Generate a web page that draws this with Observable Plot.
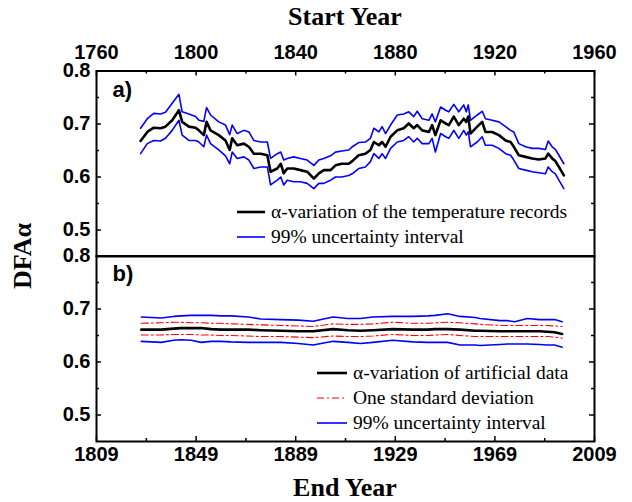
<!DOCTYPE html>
<html>
<head>
<meta charset="utf-8">
<script src="https://cdn.jsdelivr.net/npm/d3@7"></script>
<script src="https://cdn.jsdelivr.net/npm/@observablehq/plot@0.6"></script>
<style>
  html, body { margin: 0; padding: 0; background: white; }
  #chart { position: relative; width: 632px; height: 502px; overflow: hidden; background: white; }
  .abs { position: absolute; }
  .title { font-family: "Liberation Serif", "Times New Roman", serif; font-weight: bold; font-size: 26px; white-space: nowrap; }
  .leg { position: absolute; display: flex; align-items: center; font-family: "Liberation Serif", "Times New Roman", serif; font-size: 19.5px; white-space: nowrap; height: 24px; }
  .leg svg { margin-right: 6px; }
</style>
</head>
<body>
<div id="chart"></div>
<script>
// ---------- data ----------
// Panel a) : DFA alpha of temperature records vs start year (50-yr windows)
const startYears = [1777.7,1780.4,1783.0,1785.7,1787.7,1790.4,1793.1,1794.4,1797.1,1799.8,
  1801.1,1803.1,1804.2,1805.8,1809.1,1811.8,1813.5,1814.5,1816.5,1819.2,
  1821.2,1823.2,1825.9,1828.6,1829.9,1832.6,1834.0,1835.2,1836.6,1839.2,
  1841.9,1844.6,1847.3,1849.3,1851.3,1854.0,1856.0,1858.5,1861.3,1862.7,
  1865.3,1868.0,1870.0,1871.4,1873.4,1874.7,1876.1,1878.1,1880.8,1883.4,
  1885.4,1887.4,1888.8,1890.8,1893.5,1894.8,1896.1,1898.2,1900.2,1901.5,
  1903.5,1905.5,1907.5,1908.5,1909.3,1910.2,1912.9,1914.9,1916.2,1918.9,
  1921.6,1924.3,1926.3,1927.6,1929.6,1932.3,1935.0,1937.6,1940.3,1941.4,
  1943.0,1944.3,1945.7,1947.7];
const alphaTemp = [0.668,0.685,0.693,0.692,0.695,0.707,0.726,0.704,0.695,0.693,
  0.688,0.679,0.704,0.688,0.679,0.669,0.651,0.673,0.660,0.663,
  0.657,0.644,0.644,0.641,0.610,0.616,0.625,0.607,0.616,0.616,
  0.613,0.610,0.597,0.607,0.613,0.613,0.622,0.625,0.625,0.630,
  0.641,0.644,0.651,0.666,0.660,0.666,0.657,0.676,0.688,0.692,
  0.701,0.692,0.698,0.688,0.685,0.698,0.679,0.707,0.701,0.698,
  0.714,0.698,0.710,0.704,0.714,0.682,0.695,0.704,0.685,0.685,
  0.679,0.669,0.666,0.657,0.641,0.638,0.635,0.633,0.635,0.644,
  0.635,0.630,0.619,0.603];
const upperTemp = [0.692,0.710,0.720,0.719,0.722,0.739,0.756,0.723,0.719,0.714,
  0.707,0.705,0.731,0.717,0.704,0.698,0.680,0.698,0.682,0.688,
  0.685,0.669,0.666,0.666,0.635,0.644,0.647,0.632,0.635,0.638,
  0.635,0.632,0.622,0.632,0.635,0.640,0.647,0.649,0.651,0.657,
  0.665,0.666,0.673,0.692,0.685,0.695,0.682,0.698,0.717,0.719,
  0.723,0.714,0.724,0.710,0.707,0.719,0.704,0.732,0.726,0.723,
  0.737,0.723,0.736,0.723,0.736,0.707,0.717,0.724,0.710,0.707,
  0.704,0.695,0.688,0.685,0.663,0.657,0.654,0.654,0.652,0.668,
  0.657,0.652,0.641,0.625];
const lowerTemp = [0.644,0.663,0.669,0.668,0.673,0.688,0.707,0.679,0.669,0.669,
  0.666,0.657,0.679,0.663,0.651,0.640,0.625,0.647,0.635,0.638,
  0.632,0.616,0.619,0.619,0.585,0.594,0.600,0.585,0.594,0.591,
  0.591,0.588,0.578,0.588,0.588,0.594,0.600,0.600,0.603,0.606,
  0.616,0.619,0.629,0.644,0.635,0.644,0.635,0.654,0.666,0.669,
  0.676,0.666,0.673,0.663,0.663,0.673,0.647,0.682,0.676,0.673,
  0.688,0.673,0.688,0.679,0.685,0.657,0.666,0.676,0.660,0.660,
  0.654,0.644,0.641,0.632,0.616,0.613,0.610,0.608,0.606,0.619,
  0.610,0.606,0.594,0.578];

// Panel b) : artificial data vs end year
const endYears = [1827,1835,1840,1843,1847,1851,1855,1859,1863,1870,1875,1883,1890,1896,1904,1910,1915,
  1920,1928,1936,1942,1945,1950,1955,1961,1963,1971,1974,1977,1982,1987,1990,1993,1996];
const upper99Art = [0.685,0.683,0.686,0.687,0.688,0.688,0.688,0.687,0.687,0.685,0.681,0.680,0.679,0.677,0.685,0.682,0.682,
  0.685,0.686,0.686,0.687,0.688,0.691,0.686,0.684,0.682,0.678,0.678,0.676,0.682,0.680,0.680,0.680,0.676];
const upperSdArt = [0.673,0.674,0.675,0.675,0.674,0.674,0.673,0.673,0.672,0.671,0.670,0.669,0.668,0.667,0.672,0.671,0.671,
  0.672,0.675,0.673,0.673,0.674,0.675,0.674,0.672,0.671,0.669,0.669,0.669,0.669,0.669,0.669,0.668,0.667];
const alphaArt = [0.661,0.661,0.663,0.664,0.664,0.664,0.662,0.661,0.661,0.661,0.660,0.659,0.658,0.658,0.662,0.660,0.659,
  0.660,0.662,0.661,0.661,0.662,0.662,0.661,0.659,0.659,0.658,0.658,0.658,0.658,0.658,0.657,0.656,0.653];
const lowerSdArt = [0.651,0.651,0.652,0.652,0.652,0.651,0.651,0.650,0.650,0.649,0.648,0.648,0.647,0.646,0.649,0.648,0.648,
  0.649,0.652,0.650,0.650,0.651,0.652,0.650,0.648,0.648,0.648,0.648,0.648,0.648,0.648,0.648,0.647,0.645];
const lower99Art = [0.639,0.637,0.641,0.642,0.641,0.637,0.639,0.639,0.638,0.637,0.637,0.637,0.635,0.632,0.639,0.637,0.635,
  0.637,0.641,0.638,0.637,0.637,0.637,0.632,0.632,0.631,0.633,0.634,0.634,0.634,0.633,0.632,0.632,0.628];

// tick labels
const startTicks = [1760, 1800, 1840, 1880, 1920, 1960];
const startMinor = [1780, 1820, 1860, 1900, 1940];
const endTicks = [1809, 1849, 1889, 1929, 1969, 2009];
const endMinor = [1829, 1869, 1909, 1949, 1989];
const yTicks = [0.5, 0.6, 0.7, 0.8];
const yMinor = [0.55, 0.65, 0.75];

const legendA = ["α-variation of the temperature records", "99% uncertainty interval"];
const legendB = ["α-variation of artificial data", "One standard deviation", "99% uncertainty interval"];

// ---------- layout ----------
const W = 632, ML = 96, MR = 38;
const PW = W - ML - MR;           // plot width
const PH = 185.5;                 // plot height of each panel
const BLUE = "#0000ff", RED = "#ff0000";
const DASHDOT = "7,3,2,3";
const baseStyle = {background: "transparent", overflow: "visible",
  fontFamily: "'Liberation Sans', Arial, sans-serif", fontSize: "20px", fontWeight: "bold", color: "black"};

function inwardTicks(xMaj, xMin, side) {
  const xInset = side === "top" ? "insetBottom" : "insetTop";
  return [
    Plot.tickX(xMaj, {x: d => d, [xInset]: PH - 5, stroke: "black", strokeWidth: 1.5}),
    Plot.tickX(xMin, {x: d => d, [xInset]: PH - 3, stroke: "black", strokeWidth: 1.5}),
    Plot.tickY(yTicks, {y: d => d, insetRight: PW - 5, stroke: "black", strokeWidth: 1.5}),
    Plot.tickY(yMinor, {y: d => d, insetRight: PW - 3, stroke: "black", strokeWidth: 1.5}),
    Plot.tickY(yTicks, {y: d => d, insetLeft: PW - 5, stroke: "black", strokeWidth: 1.5}),
    Plot.tickY(yMinor, {y: d => d, insetLeft: PW - 3, stroke: "black", strokeWidth: 1.5})
  ];
}

const idxA = d3.range(startYears.length);
const idxB = d3.range(endYears.length);

const plotA = Plot.plot({
  width: W, height: 70.5 + PH,
  marginTop: 70.5, marginBottom: 0, marginLeft: ML, marginRight: MR,
  style: baseStyle,
  x: {domain: [1760, 1960], axis: "top", ticks: startTicks, tickSize: 0, tickPadding: 12, tickFormat: d => String(d), label: null},
  y: {domain: [0.45, 0.8], ticks: yTicks, tickSize: 0, tickPadding: 6, tickFormat: d3.format(".1f"), label: null},
  marks: [
    Plot.line(idxA, {x: i => startYears[i], y: i => upperTemp[i], stroke: BLUE, strokeWidth: 1.6}),
    Plot.line(idxA, {x: i => startYears[i], y: i => lowerTemp[i], stroke: BLUE, strokeWidth: 1.6}),
    Plot.line(idxA, {x: i => startYears[i], y: i => alphaTemp[i], stroke: "black", strokeWidth: 2.6}),
    ...inwardTicks(startTicks, startMinor, "top"),
    Plot.text(["a)"], {frameAnchor: "top-left", text: d => d, dx: 16, dy: 10, lineAnchor: "top", textAnchor: "start", fontSize: 22, fontWeight: "bold"}),
    Plot.frame({stroke: "black", strokeWidth: 2})
  ]
});

const plotB = Plot.plot({
  width: W, height: 15.5 + PH + 40,
  marginTop: 15.5, marginBottom: 40, marginLeft: ML, marginRight: MR,
  style: baseStyle,
  x: {domain: [1809, 2009], axis: "bottom", ticks: endTicks, tickSize: 0, tickPadding: 5, tickFormat: d => String(d), label: null},
  y: {domain: [0.45, 0.8], ticks: yTicks, tickSize: 0, tickPadding: 6, tickFormat: d3.format(".1f"), label: null},
  marks: [
    Plot.line(idxB, {x: i => endYears[i], y: i => upper99Art[i], stroke: BLUE, strokeWidth: 1.6}),
    Plot.line(idxB, {x: i => endYears[i], y: i => lower99Art[i], stroke: BLUE, strokeWidth: 1.6}),
    Plot.line(idxB, {x: i => endYears[i], y: i => upperSdArt[i], stroke: RED, strokeWidth: 1.1, strokeDasharray: DASHDOT}),
    Plot.line(idxB, {x: i => endYears[i], y: i => lowerSdArt[i], stroke: RED, strokeWidth: 1.1, strokeDasharray: DASHDOT}),
    Plot.line(idxB, {x: i => endYears[i], y: i => alphaArt[i], stroke: "black", strokeWidth: 2.6}),
    ...inwardTicks(endTicks, endMinor, "bottom"),
    Plot.text(["b)"], {frameAnchor: "top-left", text: d => d, dx: 16, dy: 9.5, lineAnchor: "top", textAnchor: "start", fontSize: 22, fontWeight: "bold"}),
    Plot.frame({stroke: "black", strokeWidth: 2})
  ]
});

const chart = document.getElementById("chart");
function place(node, left, top) {
  const d = document.createElement("div");
  d.className = "abs";
  d.style.left = left + "px";
  d.style.top = top + "px";
  d.appendChild(node);
  chart.appendChild(d);
  return d;
}
place(plotA, 0, 0);
place(plotB, 0, 240);

// axis titles
function title(text, cx, cy, rotate) {
  const d = document.createElement("div");
  d.className = "abs title";
  d.textContent = text;
  d.style.left = cx + "px";
  d.style.top = cy + "px";
  d.style.transform = "translate(-50%, -50%)" + (rotate ? " rotate(-90deg)" : "");
  chart.appendChild(d);
}
title("Start Year", ML + PW / 2, 17, false);
title("End Year", ML + PW / 2, 488, false);
title("DFAα", 23, 256, true);

// legends
function legendRow(label, left, cy, stroke, width, dash, sw) {
  const row = document.createElement("div");
  row.className = "leg";
  row.style.left = left + "px";
  row.style.top = (cy - 12) + "px";
  const s = d3.create("svg").attr("width", width).attr("height", 10);
  s.append("line").attr("x1", 0).attr("x2", width).attr("y1", 5).attr("y2", 5)
    .attr("stroke", stroke).attr("stroke-width", sw).attr("stroke-dasharray", dash || null);
  row.appendChild(s.node());
  const t = document.createElement("span");
  t.textContent = label;
  row.appendChild(t);
  chart.appendChild(row);
}
legendRow(legendA[0], 237, 212, "black", 28, null, 2.6);
legendRow(legendA[1], 237, 237, BLUE, 28, null, 1.6);
legendRow(legendB[0], 317, 373, "black", 30, null, 2.6);
legendRow(legendB[1], 317, 397.5, RED, 30, DASHDOT, 1.1);
legendRow(legendB[2], 317, 422.5, BLUE, 30, null, 1.6);
</script>
</body>
</html>
